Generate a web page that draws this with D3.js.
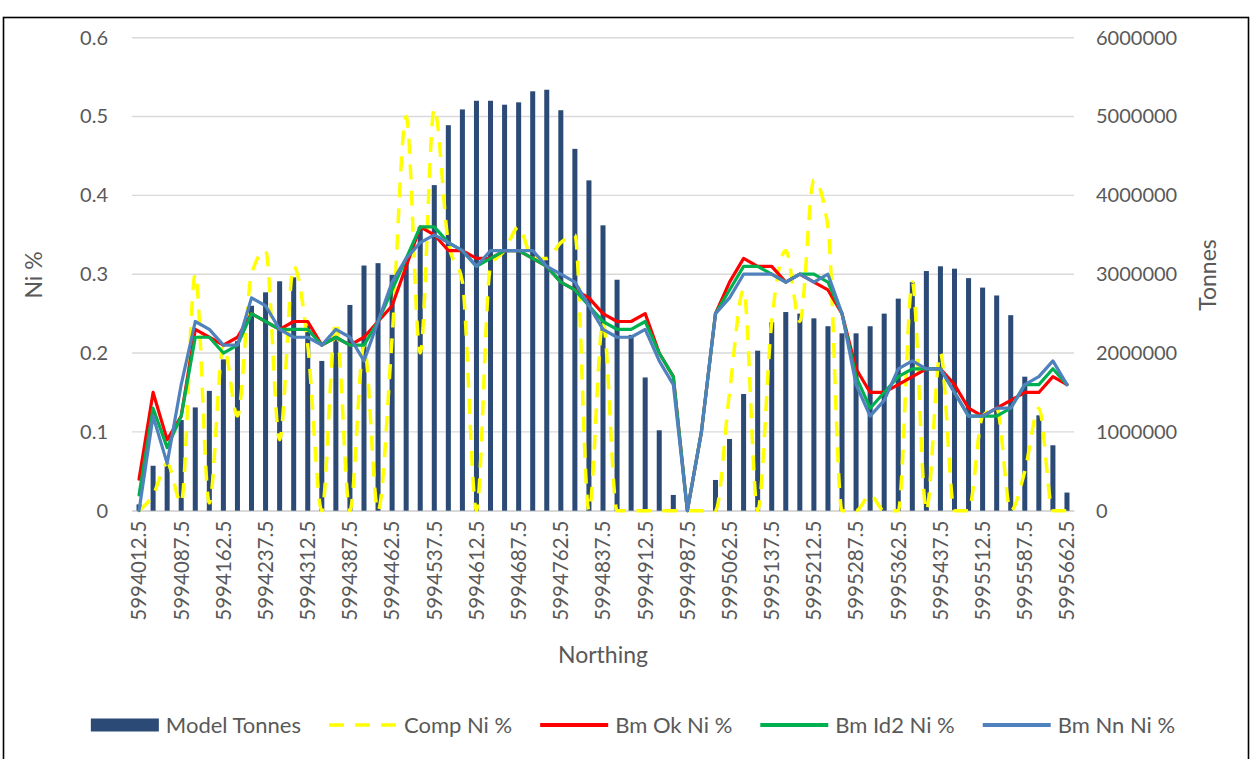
<!DOCTYPE html>
<html>
<head>
<meta charset="utf-8">
<script src="https://cdn.jsdelivr.net/npm/d3@7"></script>
<style>
  html, body { margin: 0; padding: 0; background: #ffffff; }
  svg { display: block; font-family: Lato, "Open Sans", sans-serif; }
</style>
</head>
<body>
<svg id="chart" width="1252" height="759"></svg>
<script>
// Northing bins (m)
const northing = [
  5994012.5, 5994037.5, 5994062.5, 5994087.5, 5994112.5, 5994137.5, 5994162.5, 5994187.5, 5994212.5, 5994237.5,
  5994262.5, 5994287.5, 5994312.5, 5994337.5, 5994362.5, 5994387.5, 5994412.5, 5994437.5, 5994462.5, 5994487.5,
  5994512.5, 5994537.5, 5994562.5, 5994587.5, 5994612.5, 5994637.5, 5994662.5, 5994687.5, 5994712.5, 5994737.5,
  5994762.5, 5994787.5, 5994812.5, 5994837.5, 5994862.5, 5994887.5, 5994912.5, 5994937.5, 5994962.5, 5994987.5,
  5995012.5, 5995037.5, 5995062.5, 5995087.5, 5995112.5, 5995137.5, 5995162.5, 5995187.5, 5995212.5, 5995237.5,
  5995262.5, 5995287.5, 5995312.5, 5995337.5, 5995362.5, 5995387.5, 5995412.5, 5995437.5, 5995462.5, 5995487.5,
  5995512.5, 5995537.5, 5995562.5, 5995587.5, 5995612.5, 5995637.5, 5995662.5
];

// Block model tonnes per bin
const modelTonnes = [
  80000, 570000, 600000, 1150000, 1310000, 1520000, 1920000, 2150000, 2600000, 2770000,
  2910000, 2960000, 2350000, 1900000, 2170000, 2610000, 3110000, 3140000, 2990000, 3150000,
  3600000, 4130000, 4890000, 5090000, 5200000, 5200000, 5150000, 5180000, 5320000, 5340000,
  5080000, 4590000, 4190000, 3620000, 2930000, 2230000, 1690000, 1020000, 200000, 0,
  0, 390000, 910000, 1480000, 2030000, 2390000, 2520000, 2500000, 2440000, 2340000,
  2250000, 2250000, 2340000, 2500000, 2690000, 2900000, 3040000, 3100000, 3070000, 2950000,
  2830000, 2730000, 2480000, 1700000, 1210000, 830000, 230000
];

// Composite Ni %
const compNi = [
  0, 0.02, 0.06, 0.01, 0.30, 0.01, 0.21, 0.12, 0.30, 0.33,
  0.09, 0.31, 0.21, 0, 0.24, 0, 0.21, 0, 0.22, 0.50,
  0.20, 0.51, 0.34, 0.29, 0, 0.31, 0.33, 0.36, 0.32, 0.32,
  0.34, 0.35, 0, 0.24, 0, 0, 0, 0, 0, 0,
  0, 0, 0.15, 0.28, 0, 0.24, 0.33, 0.24, 0.42, 0.36,
  0, 0, 0.02, 0, 0, 0.29, 0, 0.20, 0, 0,
  0.12, 0.13, 0, 0.05, 0.13, 0, 0
];

// Block model Ni % – ordinary kriging
const bmOkNi = [
  0.04, 0.15, 0.09, 0.12, 0.23, 0.22, 0.21, 0.22, 0.25, 0.24,
  0.23, 0.24, 0.24, 0.21, 0.22, 0.21, 0.22, 0.24, 0.26, 0.31,
  0.36, 0.35, 0.33, 0.33, 0.32, 0.32, 0.33, 0.33, 0.32, 0.31,
  0.29, 0.28, 0.27, 0.25, 0.24, 0.24, 0.25, 0.20, 0.17, 0,
  0.10, 0.25, 0.29, 0.32, 0.31, 0.31, 0.29, 0.30, 0.29, 0.28,
  0.25, 0.18, 0.15, 0.15, 0.16, 0.17, 0.18, 0.18, 0.16, 0.13,
  0.12, 0.13, 0.14, 0.15, 0.15, 0.17, 0.16
];

// Block model Ni % – inverse distance squared
const bmId2Ni = [
  0.02, 0.13, 0.08, 0.12, 0.22, 0.22, 0.20, 0.21, 0.25, 0.24,
  0.23, 0.23, 0.23, 0.21, 0.22, 0.21, 0.21, 0.24, 0.28, 0.32,
  0.36, 0.36, 0.34, 0.33, 0.31, 0.32, 0.33, 0.33, 0.32, 0.31,
  0.29, 0.28, 0.26, 0.24, 0.23, 0.23, 0.24, 0.20, 0.17, 0,
  0.10, 0.25, 0.28, 0.31, 0.31, 0.30, 0.29, 0.30, 0.30, 0.29,
  0.25, 0.17, 0.13, 0.15, 0.17, 0.18, 0.18, 0.18, 0.15, 0.12,
  0.12, 0.12, 0.13, 0.16, 0.16, 0.18, 0.16
];

// Block model Ni % – nearest neighbour
const bmNnNi = [
  0, 0.12, 0.06, 0.16, 0.24, 0.23, 0.21, 0.21, 0.27, 0.26,
  0.23, 0.22, 0.22, 0.21, 0.23, 0.22, 0.19, 0.24, 0.29, 0.32,
  0.34, 0.35, 0.34, 0.33, 0.31, 0.33, 0.33, 0.33, 0.33, 0.31,
  0.30, 0.29, 0.26, 0.23, 0.22, 0.22, 0.23, 0.19, 0.16, 0,
  0.10, 0.25, 0.27, 0.30, 0.30, 0.30, 0.29, 0.30, 0.29, 0.30,
  0.25, 0.16, 0.12, 0.14, 0.18, 0.19, 0.18, 0.18, 0.15, 0.12,
  0.12, 0.13, 0.13, 0.16, 0.17, 0.19, 0.16
];

const niTicks = [0, 0.1, 0.2, 0.3, 0.4, 0.5, 0.6];
const tonneTicks = [0, 1000000, 2000000, 3000000, 4000000, 5000000, 6000000];
const xLabelEvery = 3;

const seriesNames = ["Model Tonnes", "Comp Ni %", "Bm Ok Ni %", "Bm Id2 Ni %", "Bm Nn Ni %"];

// ---- layout & style ----
const textColor = "#595959";
const gridColor = "#d9d9d9";
const barColor = "#2b4a76";
const colors = { comp: "#ffff00", ok: "#ff0000", id2: "#00b050", nn: "#4f81bd" };
const plot = { left: 132, right: 1074, top: 37.7, bottom: 510.7 };

const svg = d3.select("#chart");

// outer frame
svg.append("rect")
  .attr("x", 3.5).attr("y", 17.5)
  .attr("width", 1245).attr("height", 780)
  .attr("fill", "none").attr("stroke", "#000").attr("stroke-width", 1.6);

const x = d3.scaleBand()
  .domain(northing.map(String))
  .range([plot.left, plot.right])
  .paddingInner(0.643)
  .paddingOuter(0.3215);
const cx = i => x(String(northing[i])) + x.bandwidth() / 2;

const yNi = d3.scaleLinear().domain([0, 0.6]).range([plot.bottom, plot.top]);
const yT = d3.scaleLinear().domain([0, 6000000]).range([plot.bottom, plot.top]);

// gridlines
svg.append("g").selectAll("line")
  .data(niTicks)
  .join("line")
  .attr("x1", plot.left).attr("x2", plot.right)
  .attr("y1", d => yNi(d)).attr("y2", d => yNi(d))
  .attr("stroke", gridColor).attr("stroke-width", 1.4);

// left axis
const leftAxis = svg.append("g")
  .attr("transform", `translate(${plot.left},0)`)
  .call(d3.axisLeft(yNi).tickValues(niTicks).tickSize(0).tickPadding(24)
    .tickFormat(d => d === 0 ? "0" : d3.format(".1f")(d)));
leftAxis.select(".domain").remove();
leftAxis.selectAll("text").attr("fill", textColor).style("font-size", "20px").style("font-family", "Lato");

// right axis
const rightAxis = svg.append("g")
  .attr("transform", `translate(${plot.right},0)`)
  .call(d3.axisRight(yT).tickValues(tonneTicks).tickSize(0).tickPadding(22)
    .tickFormat(d => String(d)));
rightAxis.select(".domain").remove();
rightAxis.selectAll("text").attr("fill", textColor).style("font-size", "20px").style("font-family", "Lato");

// bottom axis
const xAxis = svg.append("g")
  .attr("transform", `translate(0,${plot.bottom})`)
  .call(d3.axisBottom(x)
    .tickValues(northing.filter((d, i) => i % xLabelEvery === 0).map(String))
    .tickSize(0));
xAxis.select(".domain").attr("stroke", gridColor).attr("stroke-width", 1.4);
xAxis.selectAll("text")
  .attr("transform", "rotate(-90)")
  .attr("x", -10).attr("y", 0).attr("dy", "0.36em")
  .style("text-anchor", "end")
  .attr("fill", textColor).style("font-size", "20.5px").style("font-family", "Lato");

// bars
svg.append("g").selectAll("rect")
  .data(modelTonnes)
  .join("rect")
  .attr("x", (d, i) => x(String(northing[i])))
  .attr("width", x.bandwidth())
  .attr("y", d => yT(d))
  .attr("height", d => plot.bottom - yT(d))
  .attr("fill", barColor);

// lines
const straight = d3.line().x((d, i) => cx(i)).y(d => yNi(d));
const smooth = d3.line().x((d, i) => cx(i)).y(d => yNi(d)).curve(d3.curveMonotoneX);

svg.append("path").datum(compNi)
  .attr("d", smooth).attr("fill", "none")
  .attr("stroke", colors.comp).attr("stroke-width", 3.5)
  .attr("stroke-dasharray", "15,11");

[[bmOkNi, colors.ok], [bmId2Ni, colors.id2], [bmNnNi, colors.nn]].forEach(([data, c]) => {
  svg.append("path").datum(data)
    .attr("d", straight).attr("fill", "none")
    .attr("stroke", c).attr("stroke-width", 3.2)
    .attr("stroke-linejoin", "round").attr("stroke-linecap", "round");
});

// axis titles
svg.append("text").attr("transform", "translate(42,275) rotate(-90)")
  .attr("text-anchor", "middle").attr("fill", textColor)
  .style("font-size", "23px").text("Ni %");
svg.append("text").attr("transform", "translate(1216,275) rotate(-90)")
  .attr("text-anchor", "middle").attr("fill", textColor)
  .style("font-size", "23px").text("Tonnes");
svg.append("text").attr("x", (plot.left + plot.right) / 2).attr("y", 663)
  .attr("text-anchor", "middle").attr("fill", textColor)
  .style("font-size", "23px").text("Northing");

// legend
const legend = svg.append("g");
const legendY = 725, symW = 68, symGap = 7, entryGap = 28;
const styles = [
  { type: "bar", color: barColor },
  { type: "line", color: colors.comp, dash: "15,11", w: 3.5 },
  { type: "line", color: colors.ok, w: 4 },
  { type: "line", color: colors.id2, w: 4 },
  { type: "line", color: colors.nn, w: 4 }
];
let cursor = 0;
seriesNames.forEach((name, k) => {
  const g = legend.append("g");
  const st = styles[k];
  if (st.type === "bar") {
    g.append("rect").attr("x", 0).attr("y", legendY - 6.5).attr("width", symW).attr("height", 13).attr("fill", st.color);
  } else {
    g.append("line").attr("x1", 0).attr("x2", symW).attr("y1", legendY).attr("y2", legendY)
      .attr("stroke", st.color).attr("stroke-width", st.w)
      .attr("stroke-dasharray", st.dash || null);
  }
  const t = g.append("text").attr("x", symW + symGap).attr("y", legendY).attr("dy", "0.35em")
    .attr("fill", textColor).style("font-size", "22px").text(name);
  const w = symW + symGap + t.node().getComputedTextLength();
  g.attr("transform", `translate(${cursor},0)`);
  cursor += w + entryGap;
});
const totalW = cursor - entryGap;
legend.attr("transform", `translate(${633 - totalW / 2},0)`);
</script>
</body>
</html>
